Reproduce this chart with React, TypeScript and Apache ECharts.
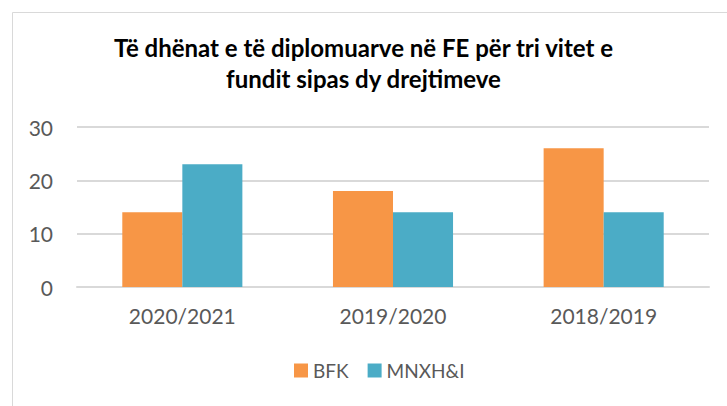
import React, { useEffect, useRef } from "react";
import * as echarts from "echarts";

const categories = ["2020/2021", "2019/2020", "2018/2019"];
const bfk = [14, 18, 26];
const mnxh = [23, 14, 14];
const seriesNames = ["BFK", "MNXH&I"];
const titleText = "Të dhënat e të diplomuarve në FE për tri vitet e\nfundit sipas dy drejtimeve";

export default function App() {
  const ref = useRef<HTMLDivElement>(null);
  useEffect(() => {
    const chart = echarts.init(ref.current!, null, { renderer: "svg" });
    chart.setOption({
      animation: false,
      backgroundColor: "#ffffff",
      textStyle: { fontFamily: "Lato" },
      title: {
        text: titleText,
        left: "center",
        top: 27,
        textStyle: { fontFamily: "Lato", fontWeight: "bold", fontSize: 24, color: "#000000", lineHeight: 31 },
      },
      graphic: [
        {
          type: "rect",
          shape: { x: 12.5, y: 12.5, width: 730, height: 410 },
          style: { fill: "none", stroke: "#d9d9d9", lineWidth: 1 },
          silent: true,
        },
      ],
      legend: {
        data: seriesNames,
        bottom: 21,
        left: 289,
        itemWidth: 14,
        itemHeight: 14,
        itemGap: 19,
        icon: "rect",
        textStyle: { fontFamily: "Lato", fontSize: 19, color: "#595959" },
      },
      grid: { left: 77, right: 18, top: 127, bottom: 119, containLabel: false },
      xAxis: {
        type: "category",
        data: categories,
        axisLine: { show: true, lineStyle: { color: "#d9d9d9", width: 2 } },
        axisTick: { show: false },
        axisLabel: { fontFamily: "Lato", fontSize: 21, color: "#595959", margin: 18 },
      },
      yAxis: {
        type: "value",
        min: 0,
        max: 30,
        interval: 10,
        axisLine: { show: false },
        axisTick: { show: false },
        splitLine: { lineStyle: { color: "#d9d9d9", width: 2 } },
        axisLabel: { fontFamily: "Lato", fontSize: 21, color: "#595959", margin: 24 },
      },
      series: [
        {
          name: seriesNames[0],
          type: "bar",
          data: bfk,
          itemStyle: { color: "#f79646" },
          barGap: "0%",
          barCategoryGap: "43%",
        },
        {
          name: seriesNames[1],
          type: "bar",
          data: mnxh,
          itemStyle: { color: "#4bacc6" },
          barGap: "0%",
          barCategoryGap: "43%",
        },
      ],
    });
    return () => chart.dispose();
  }, []);
  return (
    <div
      ref={ref}
      style={{ position: "fixed", left: 0, top: 0, width: 727, height: 406 }}
    />
  );
}
